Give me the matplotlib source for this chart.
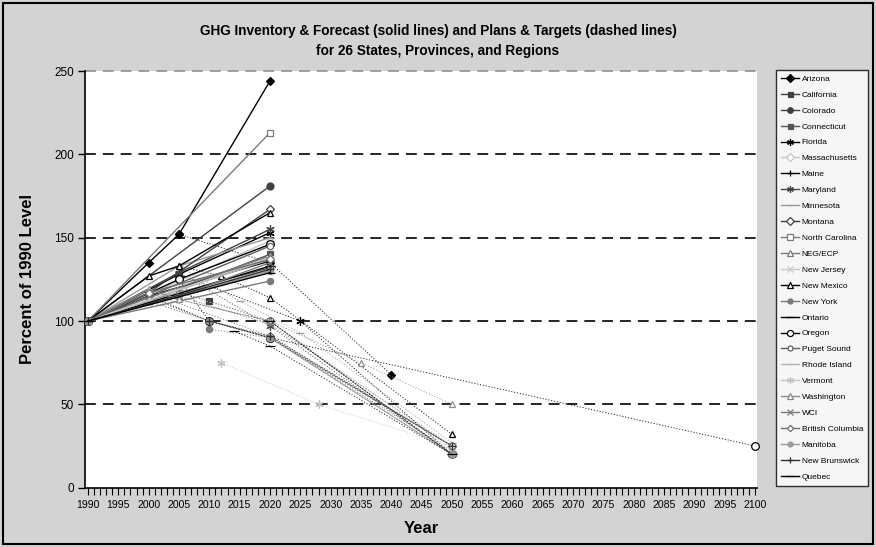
import matplotlib
matplotlib.use('Agg')
import matplotlib.pyplot as plt
from matplotlib.patches import Rectangle

plt.rcParams['font.family'] = ['Liberation Sans', 'DejaVu Sans']

# ---------------- data ----------------
regions = ['Arizona', 'California', 'Colorado', 'Connecticut', 'Florida',
           'Massachusetts', 'Maine', 'Maryland', 'Minnesota', 'Montana',
           'North Carolina', 'NEG/ECP', 'New Jersey', 'New Mexico', 'New York',
           'Ontario', 'Oregon', 'Puget Sound', 'Rhode Island', 'Vermont',
           'Washington', 'WCI', 'British Columbia', 'Manitoba', 'New Brunswick',
           'Quebec']

# inventory & forecast (solid lines)
inv_years = [
    [1990, 2000, 2005, 2020],   # Arizona
    [1990, 2000, 2005, 2020],   # California
    [1990, 2020],               # Colorado
    [1990, 2000, 2020],         # Connecticut
    [1990, 2005, 2020],         # Florida
    [1990, 2000, 2020],         # Massachusetts
    [1990, 2000, 2020],         # Maine
    [1990, 2005, 2020],         # Maryland
    [1990, 2005, 2020],         # Minnesota
    [1990, 2000, 2020],         # Montana
    [1990, 2020],               # North Carolina
    [1990, 2000, 2020],         # NEG/ECP
    [1990, 2005, 2020],         # New Jersey
    [1990, 2000, 2005, 2020],   # New Mexico
    [1990, 2020],               # New York
    [1990, 2020],               # Ontario
    [1990, 2005, 2020],         # Oregon
    [1990, 2020],               # Puget Sound
    [1990, 2020],               # Rhode Island
    [1990, 2020],               # Vermont
    [1990, 2000, 2005],         # Washington
    [1990, 2005, 2020],         # WCI
    [1990, 2000, 2020],         # British Columbia
    [1990, 2020],               # Manitoba
    [1990, 2020],               # New Brunswick
    [1990, 2020],               # Quebec
]
inv_values = [
    [100, 135, 152, 244],
    [100, 112, 117, 132],
    [100, 181],
    [100, 112, 140],
    [100, 128, 153],
    [100, 116, 148],
    [100, 115, 136],
    [100, 129, 155],
    [100, 133, 150],
    [100, 117, 167],
    [100, 213],
    [100, 114, 139],
    [100, 117, 131],
    [100, 127, 133, 165],
    [100, 124],
    [100, 133],
    [100, 125, 146],
    [100, 145],
    [100, 137],
    [100, 138],
    [100, 119, 113],
    [100, 115, 135],
    [100, 117, 137],
    [100, 130],
    [100, 131],
    [100, 129],
]

# plans & targets (dashed lines)
tgt_years = [
    [2005, 2020, 2040],
    [2005, 2010, 2020, 2050],
    [],
    [2000, 2010, 2020, 2050],
    [2005, 2025, 2050],
    [2000, 2010, 2020, 2050],
    [2000, 2010, 2020, 2050],
    [2005, 2020, 2050],
    [2005, 2015, 2025, 2050],
    [2000, 2020, 2050],
    [],
    [2000, 2010, 2020, 2050],
    [2005, 2020, 2050],
    [2005, 2012, 2020, 2050],
    [2010, 2020, 2050],
    [2014, 2020, 2050],
    [2005, 2010, 2020, 2100],
    [2020, 2050],
    [2010, 2020, 2050],
    [2012, 2028, 2050],
    [2005, 2020, 2035, 2050],
    [2005, 2020, 2050],
    [2000, 2020, 2050],
    [2010, 2020, 2050],
    [2010, 2020, 2050],
    [2020, 2050],
]
tgt_values = [
    [152, 135, 67.7],
    [117, 112, 100, 20],
    [],
    [112, 100, 90, 20],
    [128, 100, 20],
    [116, 100, 90, 20],
    [115, 100, 90, 25],
    [129, 97, 20],
    [133, 112, 93, 27],
    [117, 100, 20],
    [],
    [114, 100, 90, 22],
    [117, 100, 23],
    [133, 127, 114, 32],
    [95, 90, 20],
    [94, 85, 20],
    [125, 100, 90, 25],
    [90, 25],
    [100, 90, 25],
    [75, 50, 25],
    [113, 100, 75, 50],
    [115, 98, 25],
    [117, 91, 25],
    [100, 90, 20],
    [100, 91, 25],
    [100, 20],
]

y_ticks = [0, 50, 100, 150, 200, 250]
x_ticks = list(range(1990, 2101, 5))

# ---------------- styles ----------------
asterisk = (6, 2, 0)
colors = ['#000000', '#404040', '#404040', '#555555', '#000000',
          '#c4c4c4', '#000000', '#454545', '#9a9a9a', '#404040',
          '#7a7a7a', '#7a7a7a', '#c8c8c8', '#000000', '#7a7a7a',
          '#000000', '#000000', '#606060', '#b4b4b4', '#c4c4c4',
          '#8c8c8c', '#7a7a7a', '#707070', '#9a9a9a', '#303030',
          '#000000']
markers = ['D', 's', 'o', 's', asterisk,
           'D', '+', asterisk, '_', 'D',
           's', '^', 'x', '^', 'o',
           '_', 'o', 'o', '_', asterisk,
           '^', 'x', 'D', 'o', '+',
           '_']
filled = [True, True, True, True, True,
          False, True, True, True, False,
          False, False, True, False, True,
          True, False, False, True, True,
          False, True, False, True, True,
          True]
msizes = [4.5, 4.5, 5, 4.5, 6,
          4.5, 6, 6, 6, 4.5,
          5, 5, 5, 5, 4.5,
          7, 5.5, 4.5, 6, 6,
          5, 5, 4, 4.5, 6,
          7]

# ---------------- figure ----------------
W, H = 876, 547
fig = plt.figure(figsize=(W / 100, H / 100), dpi=100)
fig.patch.set_facecolor('#d3d3d3')
fig.patches.append(Rectangle((3 / W, 3 / H), 1 - 6 / W, 1 - 6 / H,
                             transform=fig.transFigure, fill=False,
                             edgecolor='black', linewidth=1.5))

ax = fig.add_axes([85 / W, 1 - 487.7 / H, (757 - 85) / W, (487.7 - 71) / H])
ax.set_facecolor('white')

# gridlines
for v in y_ticks[1:-1]:
    ax.axhline(v, color='black', lw=1.2, ls=(0, (6.5, 4.2)), zorder=1)
ax.axhline(250, color='#909090', lw=1.2, ls=(0, (6.5, 4.2)), zorder=1, clip_on=False)

handles = []
for i, name in enumerate(regions):
    c = colors[i]
    mfc = c if filled[i] else 'white'
    if tgt_years[i]:
        ax.plot(tgt_years[i], tgt_values[i], color=c, lw=0.7, alpha=0.85,
                ls=(0, (1.2, 1.8)), zorder=3, clip_on=False)
        ax.plot(tgt_years[i], tgt_values[i], ls='none', marker=markers[i],
                ms=msizes[i], mfc=mfc, mec=c, mew=0.9, zorder=3, clip_on=False)
    h, = ax.plot(inv_years[i], inv_values[i], color=c, lw=1.0,
                 marker=markers[i], ms=msizes[i], mfc=mfc, mec=c, mew=0.9,
                 label=name, zorder=4)
    handles.append(h)

ax.set_xlim(1989.5, 2100.3)
ax.set_ylim(0, 250)
ax.set_yticks(y_ticks)
ax.set_xticks(x_ticks)
ax.set_xticks(range(1990, 2101), minor=True)
ax.tick_params(axis='y', direction='out', length=5, width=1, labelsize=8.5, pad=3)
ax.tick_params(axis='x', which='major', direction='out', length=5, width=0.8,
               labelsize=7.6, pad=4)
ax.tick_params(axis='x', which='minor', direction='out', length=5, width=0.8)
for s in ['top', 'right']:
    ax.spines[s].set_visible(False)
for s in ['left', 'bottom']:
    ax.spines[s].set_linewidth(1.2)
    ax.spines[s].set_color('black')

ax.set_xlabel('Year', fontsize=12, fontweight='bold', labelpad=8)
ax.set_ylabel('Percent of 1990 Level', fontsize=12, fontweight='bold', labelpad=14)

fig.text(438 / W, 1 - 31 / H,
         'GHG Inventory & Forecast (solid lines) and Plans & Targets (dashed lines)',
         ha='center', va='center', fontsize=9.8, fontweight='bold')
fig.text(438 / W, 1 - 51 / H, 'for 26 States, Provinces, and Regions',
         ha='center', va='center', fontsize=9.8, fontweight='bold')

leg = fig.legend(handles=handles, loc='upper left',
                 bbox_to_anchor=(776 / W, 1 - 70 / H), borderaxespad=0,
                 fontsize=6, frameon=True, fancybox=False, edgecolor='black',
                 labelspacing=0.97, handlelength=2.2, handletextpad=0.3,
                 borderpad=0.6, markerscale=0.8)
leg.get_frame().set_linewidth(1.0)
leg.get_frame().set_facecolor('white')

fig.savefig('out.png', dpi=100, facecolor=fig.get_facecolor())
